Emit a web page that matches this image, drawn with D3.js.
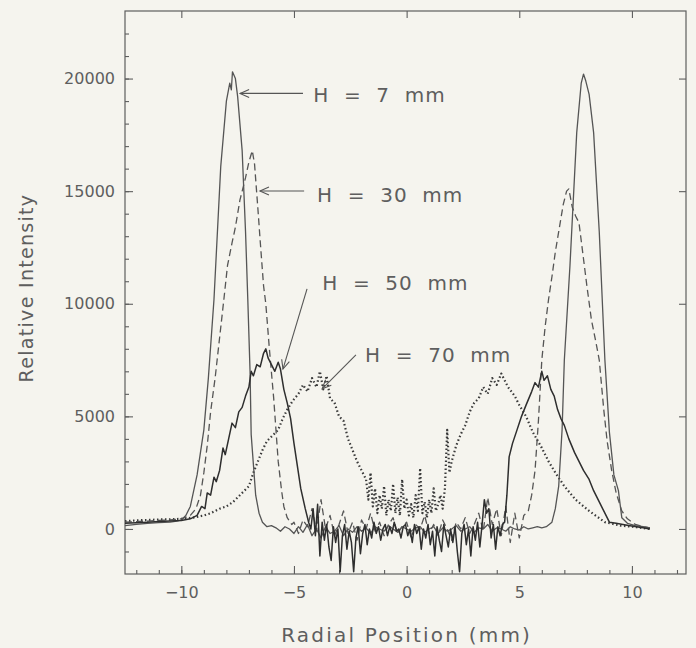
<!DOCTYPE html>
<html>
<head>
<meta charset="utf-8">
<script src="https://cdn.jsdelivr.net/npm/d3@7/dist/d3.min.js"></script>
<style>
  html, body { margin: 0; padding: 0; background: #f5f4ee; }
  svg { display: block; }
  text { font-family: "DejaVu Sans", sans-serif; fill: #5e5e5e; }
</style>
</head>
<body>
<script>

// data: [radial position (mm), relative intensity]

const h7 = [
  [-12.5, 150], [-12, 200], [-11.5, 250], [-11, 280], [-10.5, 300], [-10.2, 350], [-10, 400],
  [-9.8, 600], [-9.6, 1000], [-9.3, 2400], [-9.0, 4400], [-8.8, 6700], [-8.55, 10200],
  [-8.25, 16100], [-8.0, 19000], [-7.85, 19800], [-7.78, 19500], [-7.73, 20300], [-7.6, 20000],
  [-7.5, 19200], [-7.3, 16800], [-7.15, 13200], [-7.05, 10200], [-6.95, 7000], [-6.9, 4200],
  [-6.7, 1500], [-6.55, 700], [-6.4, 300], [-6.2, 100],
  [-6.0, 150], [-5.8, 50], [-5.6, -100], [-5.4, 100], [-5.2, 0], [-5.0, -200], [-4.8, 100],
  [-4.6, -150], [-4.4, 200], [-4.2, -300], [-4.0, 0], [-3.8, -400], [-3.6, 100], [-3.4, -200],
  [-3.2, -100], [-3.0, 150], [-2.8, -300], [-2.6, 0], [-2.4, -150], [-2.2, 100], [-2.0, -100],
  [-1.8, 50], [-1.6, -200], [-1.4, 100], [-1.2, 0], [-1.0, -100], [-0.8, 150], [-0.6, 0],
  [-0.4, -150], [-0.2, 100], [0, 0], [0.2, -100], [0.4, 50], [0.6, 100], [0.8, -150], [1.0, 0],
  [1.2, 100], [1.4, -200], [1.6, 50], [1.8, -100], [2.0, 0], [2.2, 150], [2.4, -100], [2.6, 0],
  [2.8, 100], [3.0, -150], [3.2, 50], [3.4, 0], [3.6, 200], [3.8, -100], [4.0, 50], [4.2, 0],
  [4.4, -100], [4.6, 100], [4.8, 0], [5.0, -50], [5.2, 100], [5.4, 0], [5.6, 50], [5.8, 100],
  [6.0, 50], [6.2, 100], [6.45, 300], [6.6, 900], [6.75, 1900], [6.9, 4400], [7.0, 7500],
  [7.25, 11700], [7.55, 17600], [7.75, 19800], [7.85, 20200], [7.95, 19900], [8.1, 19300],
  [8.3, 17600], [8.55, 13200], [8.8, 7500], [9.0, 4300], [9.2, 2400], [9.4, 1700], [9.55, 500],
  [9.8, 250], [10.15, 150], [10.5, 100], [10.8, 50]
];

const h30 = [
  [-12.5, 300], [-12, 330], [-11.5, 350], [-11, 380], [-10.5, 400], [-10, 450], [-9.6, 600],
  [-9.35, 900], [-9.15, 1500], [-9.0, 2500], [-8.85, 3700], [-8.7, 5200], [-8.5, 6700],
  [-8.3, 8500], [-8.1, 10300], [-7.95, 11700], [-7.75, 12700], [-7.6, 13400], [-7.4, 14600],
  [-7.15, 15600], [-7.0, 16300], [-6.85, 16800], [-6.75, 16200], [-6.6, 14200], [-6.5, 12800],
  [-6.35, 10800], [-6.25, 10000], [-6.1, 8100], [-5.9, 5800], [-5.7, 3000], [-5.55, 1700],
  [-5.45, 1000], [-5.3, 500], [-5.1, 200],
  [-5.0, 300], [-4.8, -200], [-4.6, 400], [-4.4, 100], [-4.2, 900], [-4.0, -100], [-3.8, 1300],
  [-3.6, 0], [-3.4, 600], [-3.2, -300], [-3.0, 200], [-2.8, 800], [-2.6, -200], [-2.4, 300],
  [-2.2, -500], [-2.0, 400], [-1.8, 0], [-1.6, 700], [-1.4, -100], [-1.2, 300], [-1.0, -300],
  [-0.8, 200], [-0.6, 500], [-0.4, -200], [-0.2, 100], [0, 300], [0.2, -400], [0.4, 200],
  [0.6, 0], [0.8, 600], [1.0, -200], [1.2, 200], [1.4, -300], [1.6, 400], [1.8, 0], [2.0, -500],
  [2.2, 300], [2.4, 0], [2.6, 500], [2.8, -200], [3.0, 200], [3.2, 700], [3.4, -100],
  [3.6, 1400], [3.8, 200], [4.0, 900], [4.2, -300], [4.4, 1000], [4.6, -600], [4.8, 700],
  [5.0, -400], [5.2, 600],
  [5.4, 800], [5.55, 1500], [5.7, 2600], [5.85, 4800], [6.0, 7500], [6.15, 9000], [6.3, 10200],
  [6.45, 11200], [6.6, 12300], [6.75, 13200], [6.95, 14400], [7.1, 15000], [7.2, 15100],
  [7.35, 14300], [7.5, 13900], [7.65, 13600], [7.85, 12000], [8.0, 10800], [8.2, 9300],
  [8.4, 8300], [8.55, 7500], [8.75, 5300], [8.9, 3900], [9.1, 2600], [9.3, 1600], [9.55, 800],
  [9.8, 450], [10.15, 200], [10.5, 100], [10.8, 50]
];

const h50 = [
  [-12.5, 250], [-12, 280], [-11.5, 300], [-11, 330], [-10.5, 350], [-10, 380], [-9.6, 450],
  [-9.3, 600], [-9.1, 1000], [-8.95, 900], [-8.85, 1600], [-8.7, 1500], [-8.55, 2300],
  [-8.45, 2100], [-8.3, 2600], [-8.15, 3600], [-8.05, 3300], [-7.9, 4000], [-7.75, 4700],
  [-7.6, 4500], [-7.45, 5200], [-7.3, 5400], [-7.15, 5900], [-7.0, 6300], [-6.9, 7000],
  [-6.8, 6800], [-6.65, 7300], [-6.5, 7200], [-6.35, 7800], [-6.25, 8000], [-6.15, 7600],
  [-6.0, 7300], [-5.85, 7000], [-5.7, 7400], [-5.6, 7100], [-5.45, 6200], [-5.3, 5600],
  [-5.15, 4900], [-5.0, 3800], [-4.85, 2800], [-4.7, 1800], [-4.5, 900], [-4.35, 300],
  [-4.25, 0], [-4.15, 900], [-4.05, -300], [-3.95, 1100], [-3.85, -1200], [-3.75, 300],
  [-3.65, -500], [-3.55, 200], [-3.45, -800], [-3.35, -1400], [-3.25, 100], [-3.15, -600],
  [-3.05, 0], [-2.95, -1900], [-2.85, -300], [-2.75, 200], [-2.65, -900], [-2.55, -100],
  [-2.45, -600], [-2.35, -1900], [-2.25, -400], [-2.15, 100], [-2.05, -1100], [-1.95, -200],
  [-1.85, 200], [-1.75, -700], [-1.65, 0], [-1.55, -400], [-1.45, 300], [-1.35, -200],
  [-1.25, 100], [-1.15, -500], [-1.05, 0], [-0.95, 200], [-0.85, -300], [-0.75, 100],
  [-0.65, -200], [-0.55, 300], [-0.45, -100], [-0.35, 0], [-0.25, -400], [-0.15, 100],
  [-0.05, 200], [0.05, -300], [0.15, 0], [0.25, -600], [0.35, 200], [0.45, -200], [0.55, 100],
  [0.65, -900], [0.75, 0], [0.85, -400], [0.95, 200], [1.05, -700], [1.15, -100], [1.25, -1200],
  [1.35, 100], [1.45, -500], [1.55, -1000], [1.65, 200], [1.75, -300], [1.85, -800], [1.95, 0],
  [2.05, -600], [2.15, 100], [2.25, -1000], [2.35, -1900], [2.45, -200], [2.55, 200],
  [2.65, -700], [2.75, 0], [2.85, -1200], [2.95, 100], [3.05, -500], [3.15, 300], [3.25, -800],
  [3.35, 200], [3.45, 1300], [3.55, 700], [3.65, 900], [3.75, -400], [3.85, 200], [3.95, -900],
  [4.05, 100], [4.15, -300], [4.25, 200], [4.35, 300], [4.45, 1500], [4.55, 3200],
  [4.7, 3800], [4.9, 4400], [5.1, 5000], [5.3, 5500], [5.55, 6100], [5.7, 6500], [5.85, 6300],
  [6.0, 7000], [6.1, 6600], [6.25, 6800], [6.4, 6200], [6.55, 5900], [6.7, 5300], [6.85, 4900],
  [7.0, 4600], [7.2, 4000], [7.45, 3400], [7.65, 3000], [7.85, 2600], [8.1, 2200], [8.3, 1700],
  [8.55, 1200], [8.8, 700], [9.0, 300], [9.3, 250], [9.6, 200], [9.85, 150], [10.2, 100],
  [10.5, 50], [10.8, 0]
];

const h70 = [
  [-12.5, 350], [-12, 380], [-11.5, 400], [-11, 420], [-10.5, 430], [-10, 450], [-9.5, 500],
  [-9.0, 600], [-8.7, 700], [-8.3, 900], [-8.0, 1000], [-7.7, 1200], [-7.4, 1500], [-7.2, 1700],
  [-7.0, 1900], [-6.8, 2500], [-6.6, 3000], [-6.4, 3500], [-6.2, 3900], [-6.0, 4100],
  [-5.7, 4400], [-5.5, 4900], [-5.3, 5300], [-5.05, 5700], [-4.8, 6000], [-4.6, 6400],
  [-4.4, 6100], [-4.2, 6700], [-4.0, 6300], [-3.85, 7000], [-3.7, 6200], [-3.55, 6800],
  [-3.4, 5800], [-3.2, 5600], [-3.0, 5000], [-2.8, 4800], [-2.6, 4000], [-2.4, 3500],
  [-2.2, 3000], [-2.0, 2600], [-1.8, 2200], [-1.7, 1300], [-1.6, 2500], [-1.5, 1000],
  [-1.4, 1800], [-1.3, 700], [-1.2, 1500], [-1.1, 900], [-1.0, 1900], [-0.9, 600], [-0.8, 1300],
  [-0.7, 800], [-0.6, 2000], [-0.5, 700], [-0.4, 1400], [-0.3, 600], [-0.2, 2200], [-0.1, 900],
  [0, 1300], [0.1, 600], [0.2, 1100], [0.3, 500], [0.4, 1500], [0.5, 800], [0.6, 2700],
  [0.7, 700], [0.8, 1200], [0.9, 500], [1.0, 1300], [1.1, 700], [1.2, 1800], [1.3, 800],
  [1.4, 1100], [1.5, 1500], [1.6, 900], [1.7, 1800], [1.8, 4400], [1.9, 2500], [2.0, 3000],
  [2.2, 3700], [2.4, 4200], [2.6, 4600], [2.8, 5200], [3.0, 5600], [3.2, 5800], [3.4, 6300],
  [3.6, 6000], [3.8, 6700], [4.0, 6400], [4.2, 6900], [4.5, 6300], [4.8, 5900], [5.0, 5500],
  [5.3, 5000], [5.6, 4300], [6.0, 3600], [6.3, 3000], [6.6, 2500], [7.0, 1900], [7.5, 1300],
  [8.1, 800], [8.8, 300], [9.5, 150], [10.2, 80], [10.8, 0]
];

const xTicks = [-10, -5, 0, 5, 10];
const yTicks = [0, 5000, 10000, 15000, 20000];

const annotations = [
  { label: "H  =  7  mm",  textAt: [-4.15, 19270], from: [-4.6, 19340],  to: [-7.39, 19340] },
  { label: "H  =  30  mm", textAt: [-3.98, 14830], from: [-4.55, 15010], to: [-6.51, 15010] },
  { label: "H  =  50  mm", textAt: [-3.75, 10920], from: [-4.42, 10660], to: [-5.49, 7100] },
  { label: "H  =  70  mm", textAt: [-1.85, 7730],  from: [-2.25, 7730],  to: [-3.75, 6220] }
];

function drawChart() {

    // dimensions

    const dms = {
        width: 696,
        height: 648,
        margins: { top: 11, right: 10, bottom: 74, left: 125 }
    };
    dms.innerWidth = dms.width - dms.margins.left - dms.margins.right;
    dms.innerHeight = dms.height - dms.margins.top - dms.margins.bottom;

    const svg = d3.select("body")
        .append("svg")
            .attr("width", dms.width)
            .attr("height", dms.height);

    svg.append("rect")
        .attr("width", dms.width)
        .attr("height", dms.height)
        .attr("fill", "#f5f4ee");

    const g = svg.append("g")
        .attr("transform", `translate(${dms.margins.left},${dms.margins.top})`);

    // scales

    const xScale = d3.scaleLinear()
        .domain([-12.5, 12.4])
        .range([0, dms.innerWidth]);

    const yScale = d3.scaleLinear()
        .domain([-2000, 23000])
        .range([dms.innerHeight, 0]);

    // axes: ticks point inward, minor ticks on left and bottom only

    const axisColor = "#5e5e5e";

    const styleAxis = sel => {
        sel.select(".domain").remove();
        sel.selectAll("line").attr("stroke", axisColor).attr("stroke-width", 1.1);
        sel.selectAll("text").attr("font-size", 16).attr("fill", axisColor);
    };

    g.append("g")
        .attr("transform", `translate(0,${dms.innerHeight})`)
        .call(d3.axisBottom(xScale).tickValues(d3.range(-12, 13, 1)).tickSize(-4).tickFormat(""))
        .call(styleAxis);
    g.append("g")
        .attr("transform", `translate(0,${dms.innerHeight})`)
        .call(d3.axisBottom(xScale).tickValues(xTicks).tickSize(-8).tickPadding(13))
        .call(styleAxis);

    g.append("g")
        .call(d3.axisLeft(yScale).tickValues(d3.range(-1000, 23000, 1000)).tickSize(-4).tickFormat(""))
        .call(styleAxis);
    g.append("g")
        .call(d3.axisLeft(yScale).tickValues(yTicks).tickSize(-8).tickPadding(10).tickFormat(d3.format("d")))
        .call(styleAxis);

    g.append("g")
        .call(d3.axisTop(xScale).tickValues(xTicks).tickSize(-7).tickFormat(""))
        .call(styleAxis);
    g.append("g")
        .attr("transform", `translate(${dms.innerWidth},0)`)
        .call(d3.axisRight(yScale).tickValues(yTicks).tickSize(-7).tickFormat(""))
        .call(styleAxis);

    g.append("rect")
        .attr("width", dms.innerWidth)
        .attr("height", dms.innerHeight)
        .attr("fill", "none")
        .attr("stroke", axisColor)
        .attr("stroke-width", 1.2);

    // axis titles

    svg.append("text")
        .attr("x", dms.margins.left + xScale(0))
        .attr("y", 642)
        .attr("text-anchor", "middle")
        .attr("font-size", 20)
        .attr("letter-spacing", 2.2)
        .text("Radial Position (mm)");

    svg.append("text")
        .attr("transform", "translate(33,288) rotate(-90)")
        .attr("text-anchor", "middle")
        .attr("font-size", 19)
        .attr("letter-spacing", 1.3)
        .text("Relative Intensity");

    // profiles

    const line = d3.line()
        .x(d => xScale(d[0]))
        .y(d => yScale(d[1]));

    const series = [
        { data: h70, stroke: "#3a3a3a", width: 2.2, dash: "1.5,2.5" },
        { data: h30, stroke: "#555",    width: 1.3, dash: "7,4" },
        { data: h7,  stroke: "#555",    width: 1.3, dash: null },
        { data: h50, stroke: "#2e2e2e", width: 1.5, dash: null }
    ];

    g.selectAll(".profile")
        .data(series)
        .join("path")
            .attr("class", "profile")
            .attr("d", d => line(d.data))
            .attr("fill", "none")
            .attr("stroke", d => d.stroke)
            .attr("stroke-width", d => d.width)
            .attr("stroke-dasharray", d => d.dash)
            .attr("stroke-linejoin", "round");

    // labels with arrows

    svg.append("defs")
        .append("marker")
            .attr("id", "head")
            .attr("viewBox", "-10 -6 12 12")
            .attr("refX", 0)
            .attr("refY", 0)
            .attr("markerWidth", 12)
            .attr("markerHeight", 12)
            .attr("markerUnits", "userSpaceOnUse")
            .attr("orient", "auto")
        .append("path")
            .attr("d", "M-9,-4 L0,0 L-9,4")
            .attr("fill", "none")
            .attr("stroke", "#555")
            .attr("stroke-width", 1.1);

    const notes = g.selectAll(".note")
        .data(annotations)
        .join("g")
            .attr("class", "note");

    notes.append("line")
        .attr("x1", d => xScale(d.from[0]))
        .attr("y1", d => yScale(d.from[1]))
        .attr("x2", d => xScale(d.to[0]))
        .attr("y2", d => yScale(d.to[1]))
        .attr("stroke", "#555")
        .attr("stroke-width", 1.1)
        .attr("marker-end", "url(#head)");

    notes.append("text")
        .attr("x", d => xScale(d.textAt[0]))
        .attr("y", d => yScale(d.textAt[1]))
        .attr("dy", "0.36em")
        .attr("font-size", 20)
        .attr("letter-spacing", 1)
        .style("white-space", "pre")
        .text(d => d.label);
}

drawChart();
</script>
</body>
</html>
